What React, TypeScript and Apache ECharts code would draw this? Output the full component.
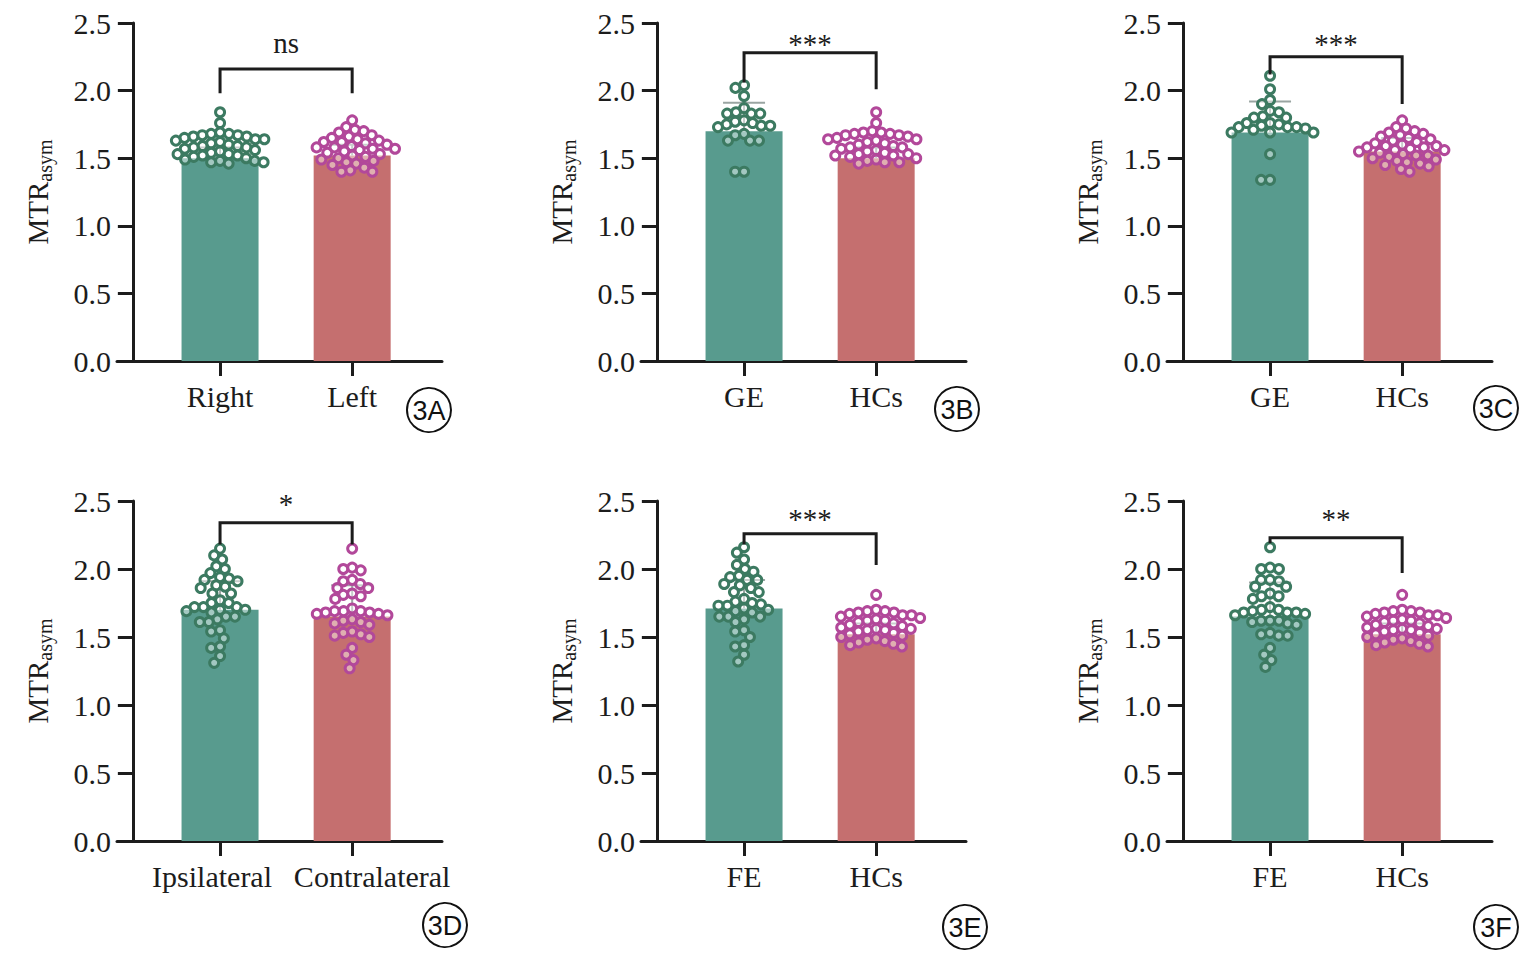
import React, { useEffect, useRef } from "react";
import * as echarts from "echarts";

// ---------- data ----------
const catA = ["Right", "Left"];
const catB = ["GE", "HCs"];
const catC = ["GE", "HCs"];
const catD = ["Ipsilateral", "Contralateral"];
const catE = ["FE", "HCs"];
const catF = ["FE", "HCs"];

const meanA = [1.5, 1.52];
const meanB = [1.7, 1.5];
const meanC = [1.69, 1.55];
const meanD = [1.7, 1.65];
const meanE = [1.71, 1.52];
const meanF = [1.65, 1.52];

const sdA = [0.08, 0.08];
const sdB = [0.21, 0.08];
const sdC = [0.23, 0.1];
const sdD = [0.21, 0.23];
const sdE = [0.21, 0.08];
const sdF = [0.25, 0.08];

const sigLabels = ["ns", "***", "***", "*", "***", "**"];
// [bracket top, left leg end, right leg end, label y]
const bracketA = [2.16, 1.98, 1.98, 2.35];
const bracketB = [2.28, 2.06, 2.01, 2.4];
const bracketC = [2.25, 2.12, 1.9, 2.4];
const bracketD = [2.34, 2.18, 2.18, 2.53];
const bracketE = [2.26, 2.18, 2.03, 2.42];
const bracketF = [2.23, 2.19, 1.97, 2.42];

const dotsA1 = [1.84, 1.76, 1.69, 1.68, 1.68, 1.67, 1.67, 1.66, 1.66, 1.65, 1.64, 1.64, 1.63, 1.62, 1.61, 1.6, 1.59, 1.59, 1.58, 1.58, 1.57, 1.56, 1.55, 1.54, 1.53, 1.53, 1.52, 1.52, 1.51, 1.5, 1.49, 1.48, 1.48, 1.47, 1.47, 1.46];
const dotsA2 = [1.78, 1.73, 1.71, 1.7, 1.69, 1.67, 1.66, 1.65, 1.64, 1.63, 1.62, 1.62, 1.61, 1.6, 1.59, 1.58, 1.58, 1.57, 1.57, 1.56, 1.55, 1.54, 1.53, 1.52, 1.51, 1.5, 1.49, 1.48, 1.47, 1.46, 1.45, 1.43, 1.41, 1.4, 1.4];
const dotsB1 = [2.04, 2.02, 1.96, 1.87, 1.84, 1.83, 1.83, 1.83, 1.78, 1.77, 1.76, 1.75, 1.74, 1.74, 1.73, 1.68, 1.67, 1.63, 1.63, 1.63, 1.4, 1.4];
const dotsB2 = [1.84, 1.76, 1.7, 1.69, 1.69, 1.68, 1.68, 1.67, 1.67, 1.66, 1.65, 1.64, 1.64, 1.63, 1.62, 1.61, 1.6, 1.59, 1.58, 1.58, 1.57, 1.56, 1.55, 1.54, 1.53, 1.53, 1.52, 1.52, 1.51, 1.5, 1.49, 1.48, 1.47, 1.47, 1.46];
const dotsC1 = [2.11, 2.01, 1.93, 1.9, 1.85, 1.84, 1.81, 1.8, 1.8, 1.76, 1.76, 1.75, 1.74, 1.73, 1.73, 1.73, 1.72, 1.71, 1.69, 1.69, 1.69, 1.53, 1.34, 1.34];
const dotsC2 = [1.78, 1.73, 1.72, 1.7, 1.69, 1.68, 1.67, 1.66, 1.65, 1.64, 1.63, 1.62, 1.61, 1.6, 1.59, 1.59, 1.58, 1.58, 1.57, 1.56, 1.56, 1.55, 1.54, 1.53, 1.52, 1.52, 1.51, 1.5, 1.49, 1.48, 1.47, 1.46, 1.45, 1.44, 1.42, 1.4];
const dotsD1 = [2.15, 2.1, 2.07, 2.02, 2.0, 1.97, 1.94, 1.93, 1.92, 1.91, 1.88, 1.87, 1.86, 1.82, 1.82, 1.77, 1.75, 1.75, 1.72, 1.72, 1.72, 1.7, 1.7, 1.69, 1.68, 1.65, 1.65, 1.63, 1.61, 1.61, 1.55, 1.54, 1.49, 1.43, 1.42, 1.36, 1.31];
const dotsD2 = [2.15, 2.01, 2.0, 1.99, 1.92, 1.91, 1.89, 1.86, 1.86, 1.82, 1.81, 1.8, 1.78, 1.71, 1.69, 1.69, 1.69, 1.68, 1.68, 1.67, 1.67, 1.66, 1.63, 1.62, 1.61, 1.6, 1.59, 1.54, 1.53, 1.52, 1.51, 1.5, 1.42, 1.37, 1.33, 1.27];
const dotsE1 = [2.16, 2.12, 2.07, 2.03, 2.0, 1.98, 1.95, 1.94, 1.92, 1.92, 1.89, 1.88, 1.86, 1.83, 1.83, 1.78, 1.76, 1.75, 1.74, 1.73, 1.73, 1.71, 1.7, 1.69, 1.68, 1.65, 1.65, 1.65, 1.63, 1.61, 1.55, 1.54, 1.5, 1.44, 1.43, 1.37, 1.32];
const dotsE2 = [1.81, 1.7, 1.69, 1.69, 1.68, 1.68, 1.67, 1.66, 1.66, 1.65, 1.64, 1.63, 1.62, 1.62, 1.61, 1.6, 1.59, 1.58, 1.57, 1.56, 1.56, 1.55, 1.55, 1.54, 1.53, 1.52, 1.51, 1.5, 1.49, 1.48, 1.47, 1.46, 1.45, 1.44, 1.43];
const dotsF1 = [2.16, 2.01, 2.0, 2.0, 1.92, 1.92, 1.91, 1.87, 1.87, 1.82, 1.8, 1.8, 1.78, 1.72, 1.7, 1.7, 1.69, 1.68, 1.68, 1.68, 1.67, 1.66, 1.62, 1.62, 1.62, 1.61, 1.6, 1.59, 1.53, 1.52, 1.51, 1.51, 1.42, 1.37, 1.33, 1.28];
const dotsF2 = [1.81, 1.7, 1.69, 1.69, 1.68, 1.68, 1.67, 1.66, 1.66, 1.65, 1.64, 1.63, 1.62, 1.62, 1.61, 1.6, 1.59, 1.58, 1.57, 1.56, 1.56, 1.55, 1.55, 1.54, 1.53, 1.52, 1.51, 1.5, 1.49, 1.48, 1.47, 1.46, 1.45, 1.44, 1.43];

const panelLabels = ["3A", "3B", "3C", "3D", "3E", "3F"];
const yTicks = [0, 0.5, 1.0, 1.5, 2.0, 2.5];

// ---------- styling / layout ----------
const GREEN_BAR = "#589b8e";
const RED_BAR = "#c56f6f";
const GREEN_DOT = "#3c7a61";
const PINK_DOT = "#b2489a";
const AXIS = "#1c1c1c";
const SERIF = "'Liberation Serif', 'Times New Roman', serif";

const GRID_LEFTS = [117, 641, 1167];
const GRID_W = 325;
const ROW_TOPS = [23, 501];
const ROW_H = [338, 340];
const X_MIN = -0.12;
const X_MAX = 2.34;
const POS = [0.66, 1.66];
const LABEL_CENTERS = [
  [429, 410],
  [957, 409],
  [1496, 408],
  [445, 925],
  [965, 927],
  [1496, 927],
];
const LABEL_SHIFT = [
  [0, 0],
  [0, 0],
  [0, 0],
  [-8, 20],
  [0, 0],
  [0, 0],
];

function swarm(values: number[], pxX: number, pxY: number, D: number): number[] {
  const idx = values.map((_, i) => i).sort((a, b) => values[b] - values[a]);
  const placed: { x: number; y: number }[] = [];
  const out = new Array(values.length).fill(0);
  for (const i of idx) {
    const y = values[i] * pxY;
    const near = placed.filter((p) => Math.abs(p.y - y) < D);
    const cands = [0];
    near.forEach((p) => {
      const r = Math.sqrt(D * D - (p.y - y) * (p.y - y));
      cands.push(p.x - r, p.x + r);
    });
    cands.sort((a, b) => Math.abs(a) - Math.abs(b) || a - b);
    let chosen = 0;
    for (const c of cands) {
      const ok = near.every((p) => {
        const r = Math.sqrt(D * D - (p.y - y) * (p.y - y));
        return Math.abs(c - p.x) >= r - 1e-6;
      });
      if (ok) {
        chosen = c;
        break;
      }
    }
    placed.push({ x: chosen, y });
    out[i] = chosen / pxX;
  }
  return out;
}

export default function App() {
  const ref = useRef<HTMLDivElement>(null);

  useEffect(() => {
    document.body.style.margin = "0";
    if (!ref.current) return;
    const chart = echarts.init(ref.current, undefined, { renderer: "svg" });

    const cats = [catA, catB, catC, catD, catE, catF];
    const means = [meanA, meanB, meanC, meanD, meanE, meanF];
    const sds = [sdA, sdB, sdC, sdD, sdE, sdF];
    const brackets = [bracketA, bracketB, bracketC, bracketD, bracketE, bracketF];
    const dots = [
      [dotsA1, dotsA2],
      [dotsB1, dotsB2],
      [dotsC1, dotsC2],
      [dotsD1, dotsD2],
      [dotsE1, dotsE2],
      [dotsF1, dotsF2],
    ];

    const grids: any[] = [];
    const xAxes: any[] = [];
    const yAxes: any[] = [];
    const series: any[] = [];
    const graphics: any[] = [];

    for (let i = 0; i < 6; i++) {
      const row = Math.floor(i / 3);
      const col = i % 3;
      const pxX = GRID_W / (X_MAX - X_MIN);
      const pxY = ROW_H[row] / 2.5;
      grids.push({
        left: GRID_LEFTS[col],
        top: ROW_TOPS[row],
        width: GRID_W,
        height: ROW_H[row],
        containLabel: false,
      });
      const c = cats[i];
      const sh = LABEL_SHIFT[i];
      xAxes.push({
        type: "value",
        gridIndex: i,
        min: X_MIN,
        max: X_MAX,
        splitLine: { show: false },
        axisLine: { show: true, onZero: false, lineStyle: { color: AXIS, width: 3 } },
        axisTick: {
          show: true,
          customValues: POS,
          length: 15,
          lineStyle: { color: AXIS, width: 3 },
        },
        axisLabel: {
          show: true,
          customValues: POS,
          margin: 20,
          formatter: (v: number) => (v < 1.16 ? "{a|" + c[0] + "}" : "{b|" + c[1] + "}"),
          rich: {
            a: {
              fontSize: 30,
              fontFamily: SERIF,
              color: AXIS,
              padding: [0, Math.max(0, -sh[0] * 2), 0, Math.max(0, sh[0] * 2)],
            },
            b: {
              fontSize: 30,
              fontFamily: SERIF,
              color: AXIS,
              padding: [0, Math.max(0, -sh[1] * 2), 0, Math.max(0, sh[1] * 2)],
            },
          },
        },
      });
      yAxes.push({
        type: "value",
        gridIndex: i,
        min: 0,
        max: 2.5,
        interval: 0.5,
        splitLine: { show: false },
        axisLine: { show: true, onZero: true, lineStyle: { color: AXIS, width: 3 } },
        axisTick: { show: true, length: 15, lineStyle: { color: AXIS, width: 3 } },
        axisLabel: {
          margin: 6,
          fontSize: 30,
          fontFamily: SERIF,
          color: AXIS,
          formatter: (v: number) => {
            const t = yTicks.find((k) => Math.abs(k - v) < 1e-6);
            return (t !== undefined ? t : v).toFixed(1);
          },
        },
        name: "{m|MTR}{s|asym}",
        nameLocation: "middle",
        nameRotate: 90,
        nameGap: 62,
        nameTextStyle: {
          rich: {
            m: { fontSize: 29, fontFamily: SERIF, color: AXIS },
            s: { fontSize: 20, fontFamily: SERIF, color: AXIS, padding: [14, 0, 0, 0] },
          },
        },
      });

      // bars
      series.push({
        type: "bar",
        xAxisIndex: i,
        yAxisIndex: i,
        barWidth: 77,
        z: 1,
        data: [
          { value: [POS[0], means[i][0]], itemStyle: { color: GREEN_BAR } },
          { value: [POS[1], means[i][1]], itemStyle: { color: RED_BAR } },
        ],
      });

      // error bars (upper only)
      series.push({
        type: "custom",
        xAxisIndex: i,
        yAxisIndex: i,
        z: 2,
        clip: false,
        data: [
          [POS[0], means[i][0], sds[i][0]],
          [POS[1], means[i][1], sds[i][1]],
        ],
        renderItem: (params: any, api: any) => {
          const x = api.value(0);
          const m = api.value(1);
          const s = api.value(2);
          const top = api.coord([x, m + s]);
          const mid = api.coord([x, m]);
          const st = { stroke: "#9aa5a2", lineWidth: 2 };
          return {
            type: "group",
            children: [
              { type: "line", shape: { x1: top[0], y1: top[1], x2: mid[0], y2: mid[1] }, style: st },
              { type: "line", shape: { x1: top[0] - 21, y1: top[1], x2: top[0] + 21, y2: top[1] }, style: st },
            ],
          };
        },
      });

      // dots
      dots[i].forEach((vals, g) => {
        const offs = swarm(vals, pxX, pxY, 9);
        series.push({
          type: "scatter",
          xAxisIndex: i,
          yAxisIndex: i,
          z: 3,
          symbol: "circle",
          symbolSize: 9,
          itemStyle: {
            color: "rgba(255,255,255,0.45)",
            borderColor: g === 0 ? GREEN_DOT : PINK_DOT,
            borderWidth: 3,
            opacity: 1,
          },
          data: vals.map((v, k) => [POS[g] + offs[k], v]),
        });
      });

      // significance bracket
      const br = brackets[i];
      const lab = sigLabels[i];
      series.push({
        type: "custom",
        xAxisIndex: i,
        yAxisIndex: i,
        z: 4,
        clip: false,
        data: [[POS[0], POS[1], br[0], br[1], br[2], br[3]]],
        renderItem: (params: any, api: any) => {
          const x1 = api.value(0);
          const x2 = api.value(1);
          const pL = api.coord([x1, api.value(3)]);
          const pTL = api.coord([x1, api.value(2)]);
          const pTR = api.coord([x2, api.value(2)]);
          const pR = api.coord([x2, api.value(4)]);
          const pLab = api.coord([(x1 + x2) / 2, api.value(5)]);
          const isStar = lab.indexOf("*") >= 0;
          return {
            type: "group",
            children: [
              {
                type: "polyline",
                shape: { points: [pL, pTL, pTR, pR] },
                style: { stroke: AXIS, lineWidth: 3, fill: "none" },
              },
              {
                type: "text",
                x: pLab[0],
                y: pLab[1] + (isStar ? 7 : 0),
                style: {
                  text: lab,
                  fontSize: isStar ? 29 : 29,
                  fontFamily: SERIF,
                  fill: AXIS,
                  align: "center",
                  verticalAlign: "middle",
                },
              },
            ],
          };
        },
      });

      // panel label
      const lc = LABEL_CENTERS[i];
      graphics.push({
        type: "circle",
        shape: { cx: lc[0], cy: lc[1], r: 22 },
        style: { fill: "#fff", stroke: "#111", lineWidth: 2 },
      });
      graphics.push({
        type: "text",
        x: lc[0],
        y: lc[1] + 1,
        style: {
          text: panelLabels[i],
          fontSize: 27,
          fontFamily: "'Liberation Sans', Arial, sans-serif",
          fill: "#111",
          align: "center",
          verticalAlign: "middle",
        },
      });
    }

    chart.setOption({
      animation: false,
      backgroundColor: "#ffffff",
      grid: grids,
      xAxis: xAxes,
      yAxis: yAxes,
      series,
      graphic: graphics,
    });

    return () => chart.dispose();
  }, []);

  return <div ref={ref} style={{ width: 1528, height: 958 }} />;
}
